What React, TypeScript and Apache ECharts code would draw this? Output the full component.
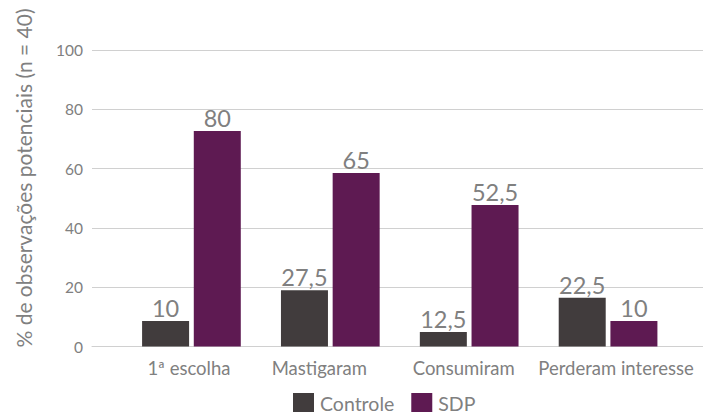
import React, { useEffect, useRef } from "react";
import * as echarts from "echarts";

const categories = ["1ª escolha", "Mastigaram", "Consumiram", "Perderam interesse"];
const controleValues = [8.6, 19.0, 4.9, 16.4];
const sdpValues = [72.7, 58.5, 47.7, 8.6];
const controleLabels = ["10", "27,5", "12,5", "22,5"];
const sdpLabels = ["80", "65", "52,5", "10"];
const yTicks = [0, 20, 40, 60, 80, 100];

const FONT = "Lato, 'Open Sans', sans-serif";
const GRAY = "#808080";
// horizontal nudges (px) of the category labels, as laid out in the reference
const labelShift = [-2.5, -11, -5.5, 8];

export default function App() {
  const ref = useRef<HTMLDivElement>(null);
  useEffect(() => {
    if (!ref.current) return;
    const chart = echarts.init(ref.current, undefined, { renderer: "svg" });
    const labelCfg = (texts: string[]) => ({
      show: true,
      position: "top" as const,
      distance: 1,
      fontFamily: FONT,
      fontSize: 23.5,
      color: GRAY,
      formatter: (p: any) => texts[p.dataIndex],
    });
    const rich: Record<string, any> = {};
    labelShift.forEach((d, i) => {
      rich["c" + i] = {
        fontFamily: FONT,
        fontSize: 18.5,
        color: GRAY,
        padding: d >= 0 ? [0, 0, 0, 2 * d] : [0, -2 * d, 0, 0],
      };
    });
    chart.setOption({
      animation: false,
      backgroundColor: "#ffffff",
      textStyle: { fontFamily: FONT },
      grid: [
        { left: 92, right: 0, top: 50, bottom: 65.5 },
        { left: 122, right: 25.5, top: 50, bottom: 65.5 },
      ],
      xAxis: [
        {
          type: "category",
          gridIndex: 0,
          data: categories,
          axisLine: { show: true, lineStyle: { color: "#d0d0d0", width: 1 } },
          axisTick: { show: false },
          axisLabel: { show: false },
          splitLine: { show: false },
        },
        {
          type: "category",
          gridIndex: 1,
          data: categories,
          axisLine: { show: false },
          axisTick: { show: false },
          axisLabel: {
            interval: 0,
            fontFamily: FONT,
            fontSize: 18.5,
            color: GRAY,
            margin: 12,
            formatter: (v: string, i: number) => `{c${i}|${v}}`,
            rich,
          },
        },
      ],
      yAxis: [
        {
          type: "value",
          gridIndex: 0,
          min: 0,
          max: 100,
          interval: 20,
          axisLine: { show: false },
          axisTick: { show: false },
          axisLabel: {
            fontFamily: FONT,
            fontSize: 15.5,
            color: GRAY,
            margin: 9,
            formatter: (v: number) => (yTicks.includes(v) ? String(v) : ""),
          },
          splitLine: { lineStyle: { color: "#d0d0d0", width: 1 } },
        },
        {
          type: "value",
          gridIndex: 1,
          min: 0,
          max: 100,
          interval: 20,
          show: false,
          splitLine: { show: false },
        },
      ],
      legend: {
        top: 393,
        left: 293,
        padding: 0,
        itemWidth: 21,
        itemHeight: 21,
        itemGap: 17,
        icon: "rect",
        textStyle: { fontFamily: FONT, fontSize: 19.5, color: GRAY, padding: [0, 0, 0, 1] },
        data: ["Controle", "SDP"],
      },
      graphic: [
        {
          type: "text",
          x: 23,
          y: 178,
          rotation: Math.PI / 2,
          style: {
            text: "% de observações potenciais (n = 40)",
            fontFamily: FONT,
            fontSize: 21,
            fill: GRAY,
            align: "center",
            verticalAlign: "middle",
          },
        },
      ],
      series: [
        {
          name: "Controle",
          type: "bar",
          xAxisIndex: 1,
          yAxisIndex: 1,
          data: controleValues,
          barWidth: 47,
          barGap: "10%",
          itemStyle: { color: "#413C3D" },
          label: labelCfg(controleLabels),
        },
        {
          name: "SDP",
          type: "bar",
          xAxisIndex: 1,
          yAxisIndex: 1,
          data: sdpValues,
          barWidth: 47,
          barGap: "10%",
          itemStyle: { color: "#5E1A52" },
          label: labelCfg(sdpLabels),
        },
      ],
    });
    return () => chart.dispose();
  }, []);
  return (
    <div
      ref={ref}
      style={{ position: "fixed", left: 0, top: 0, width: 703, height: 412 }}
    />
  );
}
